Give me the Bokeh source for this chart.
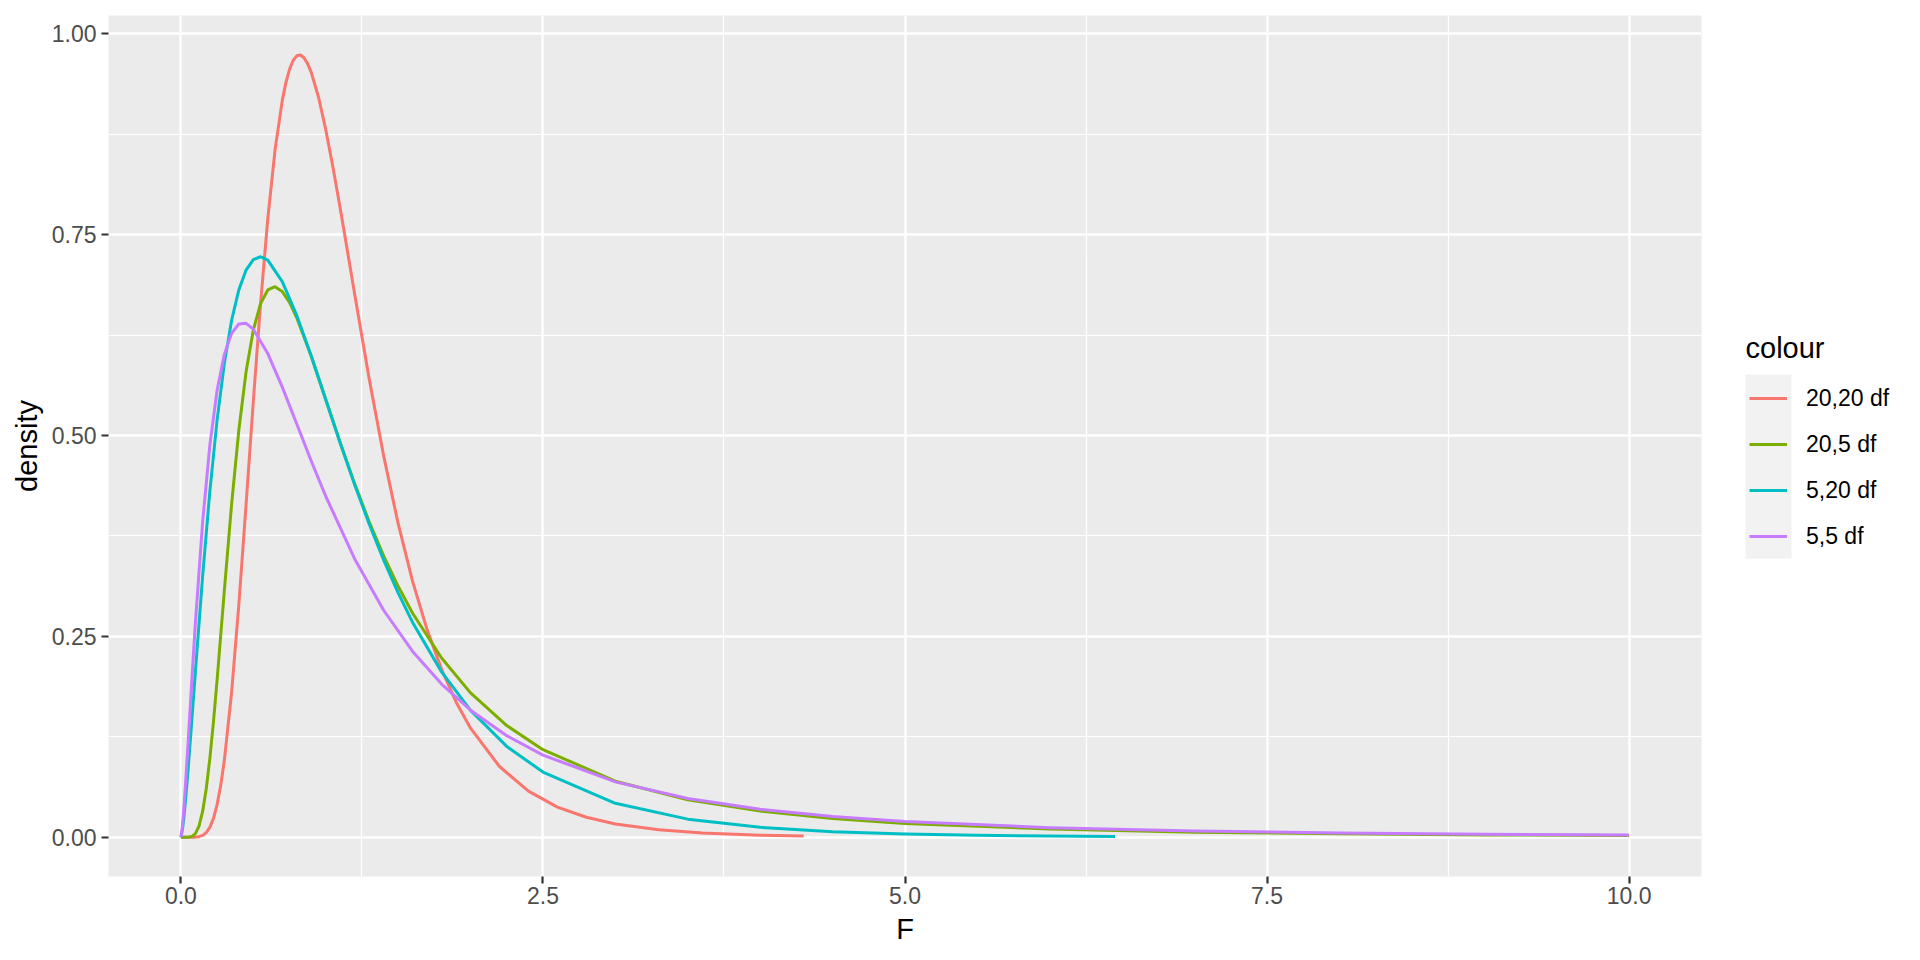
from bokeh.plotting import figure
from bokeh.models import Range1d, FixedTicker, Legend, LegendItem, Label
from bokeh.layouts import row
from bokeh.embed import file_html
from bokeh.resources import INLINE

# ---- data ----
series_names = ["20,20 df", "20,5 df", "5,20 df", "5,5 df"]
series_colors = ["#F8766D", "#7CAE00", "#00BFC4", "#C77CFF"]
legend_title = "colour"

red_x = [0, 0.1, 0.125, 0.15, 0.175, 0.2, 0.225, 0.25, 0.275, 0.3, 0.35, 0.4, 0.45, 0.5, 0.55,
         0.6, 0.65, 0.7, 0.725, 0.75, 0.775, 0.8, 0.825, 0.85, 0.875, 0.9, 0.95, 1.0, 1.05,
         1.1, 1.15, 1.2, 1.3, 1.4, 1.5, 1.6, 1.7, 1.8, 1.9, 2.0, 2.2, 2.4, 2.6, 2.8, 3.0,
         3.3, 3.6, 4.0, 4.3]
red_y = [0, 0.0001, 0.0007, 0.0022, 0.0057, 0.0123, 0.0236, 0.0406, 0.0645, 0.0957, 0.1801,
         0.2894, 0.4141, 0.5426, 0.6640, 0.7700, 0.8553, 0.9171, 0.9393, 0.9558, 0.9668,
         0.9726, 0.9737, 0.9703, 0.9629, 0.9521, 0.9213, 0.8810, 0.8340, 0.7829, 0.7296,
         0.6757, 0.5708, 0.4747, 0.3905, 0.3185, 0.2584, 0.2089, 0.1684, 0.1357, 0.0880,
         0.0573, 0.0375, 0.0248, 0.0165, 0.0092, 0.0052, 0.0025, 0.0015]

green_x = [0, 0.05, 0.075, 0.1, 0.125, 0.15, 0.175, 0.2, 0.225, 0.25, 0.3, 0.35, 0.4, 0.45,
           0.5, 0.55, 0.6, 0.65, 0.7, 0.75, 0.8, 0.9, 1.0, 1.1, 1.2, 1.3, 1.4, 1.5, 1.6, 1.8,
           2.0, 2.25, 2.5, 3.0, 3.5, 4.0, 4.5, 5, 6, 7, 8, 9, 10]
green_y = [0, 0.0001, 0.0008, 0.0044, 0.0139, 0.0321, 0.0603, 0.0982, 0.1441, 0.1959, 0.3071,
           0.4144, 0.5068, 0.5793, 0.6312, 0.6642, 0.6812, 0.6853, 0.6792, 0.6656, 0.6465,
           0.5986, 0.5449, 0.4910, 0.4398, 0.3927, 0.3501, 0.3123, 0.2787, 0.2230, 0.1797,
           0.1390, 0.1090, 0.0697, 0.0467, 0.0325, 0.0233, 0.0172, 0.0101, 0.0063, 0.0042,
           0.0029, 0.0021]

cyan_x = [0, 0.01, 0.02, 0.035, 0.05, 0.075, 0.1, 0.15, 0.2, 0.25, 0.3, 0.35, 0.4, 0.45, 0.5,
          0.55, 0.6, 0.7, 0.8, 0.9, 1.0, 1.1, 1.2, 1.3, 1.4, 1.5, 1.6, 1.8, 2.0, 2.25, 2.5,
          3.0, 3.5, 4.0, 4.5, 5.0, 5.5, 6.0, 6.45]
cyan_y = [0, 0.0086, 0.0236, 0.0520, 0.0849, 0.1444, 0.2059, 0.3250, 0.4309, 0.5194, 0.5898,
          0.6433, 0.6813, 0.7059, 0.7190, 0.7225, 0.7182, 0.6916, 0.6495, 0.5989, 0.5449,
          0.4908, 0.4387, 0.3898, 0.3449, 0.3041, 0.2674, 0.2058, 0.1578, 0.1130, 0.0811,
          0.0422, 0.0225, 0.0123, 0.0069, 0.0039, 0.0023, 0.0014, 0.0009]

purple_x = [0, 0.01, 0.02, 0.035, 0.05, 0.075, 0.1, 0.15, 0.2, 0.25, 0.3, 0.35, 0.4, 0.45,
            0.5, 0.6, 0.7, 0.8, 0.9, 1.0, 1.2, 1.4, 1.6, 1.8, 2.0, 2.25, 2.5, 3.0, 3.5, 4.0,
            4.5, 5.0, 6, 7, 8, 9, 10]
purple_y = [0, 0.0129, 0.0348, 0.0749, 0.1190, 0.1943, 0.2667, 0.3923, 0.4882, 0.5563,
            0.6010, 0.6272, 0.6388, 0.6396, 0.6324, 0.6020, 0.5602, 0.5143, 0.4683, 0.4244,
            0.3464, 0.2825, 0.2313, 0.1906, 0.1581, 0.1264, 0.1022, 0.0689, 0.0482, 0.0348,
            0.0258, 0.0195, 0.0119, 0.0077, 0.0052, 0.0037, 0.0027]

x_ticks = [0, 2.5, 5, 7.5, 10]
x_tick_labels = ["0.0", "2.5", "5.0", "7.5", "10.0"]
x_minor = [1.25, 3.75, 6.25, 8.75]
y_ticks = [0, 0.25, 0.5, 0.75, 1.0]
y_tick_labels = ["0.00", "0.25", "0.50", "0.75", "1.00"]
y_minor = [0.125, 0.375, 0.625, 0.875]

FONT = "Liberation Sans"
TOTAL_H = 952
LEG_W = 200
FRAME_TOP, FRAME_BOTTOM = 15, 876

p = figure(frame_width=1593, frame_height=FRAME_BOTTOM - FRAME_TOP, output_backend="svg",
           toolbar_location=None,
           x_range=Range1d(-0.5, 10.5), y_range=Range1d(-0.0489, 1.0228),
           min_border_left=108, min_border_right=10, min_border_top=FRAME_TOP,
           min_border_bottom=TOTAL_H - FRAME_BOTTOM)
p.background_fill_color = "#EBEBEB"
p.border_fill_color = "white"
p.outline_line_color = None

p.xaxis.ticker = FixedTicker(ticks=x_ticks, minor_ticks=x_minor)
p.yaxis.ticker = FixedTicker(ticks=y_ticks, minor_ticks=y_minor)
p.xaxis.major_label_overrides = dict(zip(x_ticks, x_tick_labels))
p.yaxis.major_label_overrides = dict(zip(y_ticks, y_tick_labels))

for g in (p.xgrid, p.ygrid):
    g.grid_line_color = "white"
    g.grid_line_width = 2.4
    g.minor_grid_line_color = "white"
    g.minor_grid_line_width = 1.2

for ax in (p.xaxis, p.yaxis):
    ax.axis_line_color = None
    ax.major_tick_line_color = "#333333"
    ax.major_tick_line_width = 2.2
    ax.major_tick_out = 7
    ax.major_tick_in = 0
    ax.minor_tick_line_color = None
    ax.major_label_text_font = FONT
    ax.major_label_text_font_size = "23px"
    ax.major_label_text_color = "#4D4D4D"
    ax.axis_label_text_font = FONT
    ax.axis_label_text_font_size = "29px"
    ax.axis_label_text_font_style = "normal"
    ax.axis_label_text_color = "black"

p.xaxis.axis_label = "F"
p.yaxis.axis_label = "density"
p.xaxis.major_label_standoff = 3
p.yaxis.major_label_standoff = 5
p.xaxis.axis_label_standoff = 6
p.yaxis.axis_label_standoff = 6

xs_all = [red_x, green_x, cyan_x, purple_x]
ys_all = [red_y, green_y, cyan_y, purple_y]

for color, xs, ys in zip(series_colors, xs_all, ys_all):
    p.line(xs, ys, line_color=color, line_width=3, line_join="round")

# ---- legend panel: separate figure whose frame is aligned with the main frame,
#      and whose data units are page pixels ----
leg = figure(width=LEG_W, height=TOTAL_H, output_backend="svg", toolbar_location=None,
             x_axis_type=None, y_axis_type=None, min_border=0,
             x_range=Range1d(0, LEG_W), y_range=Range1d(FRAME_BOTTOM, FRAME_TOP))
leg.outline_line_color = None
leg.background_fill_color = "white"
leg.border_fill_color = "white"
leg.grid.visible = False

# light grey key background behind the four legend keys
leg.quad(left=[34], right=[80], top=[374], bottom=[558], fill_color="#F2F2F2", line_color=None)

leg.add_layout(Label(x=34, y=347, text=legend_title, text_font=FONT, text_font_size="29px",
                     text_color="black", text_baseline="alphabetic", text_align="left"))

items = []
for name, color in zip(series_names, series_colors):
    # single-point stand-in: draws nothing, only gives the legend its key
    ln = leg.line(x=[0], y=[0], line_color=color, line_width=3)
    items.append(LegendItem(label=name, renderers=[ln]))

legend = Legend(items=items, location=(38, 317),
                label_text_font=FONT, label_text_font_size="23px", label_text_color="black",
                glyph_width=38, glyph_height=46, spacing=0, padding=0, margin=0,
                label_standoff=19, border_line_color=None, background_fill_alpha=0)
leg.add_layout(legend, "center")

layout = row(p, leg)
open("out.html", "w").write(file_html(layout, INLINE))
